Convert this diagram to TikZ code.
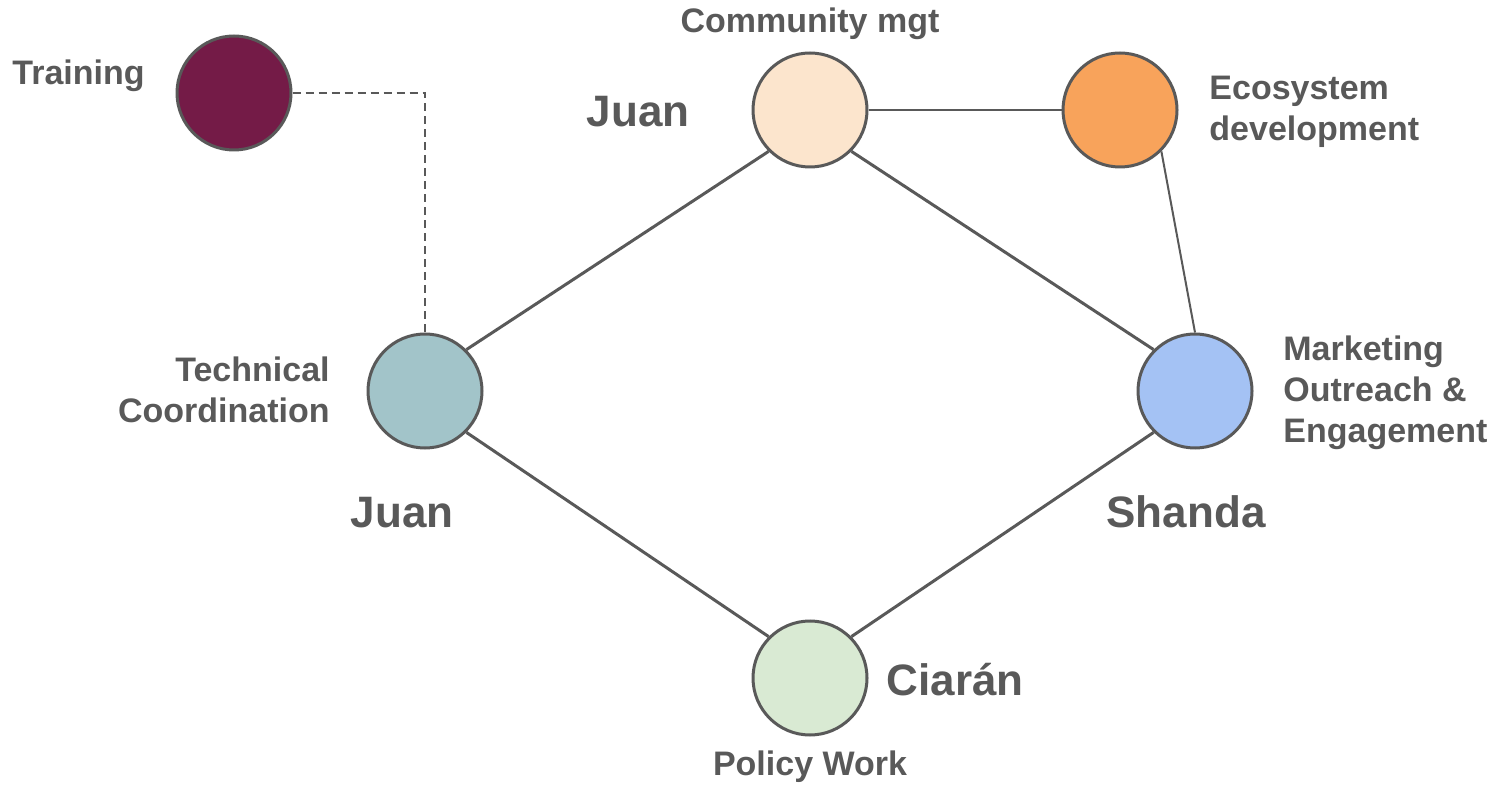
\documentclass[tikz,border=0pt]{standalone}
\usepackage{fontspec}
\setmainfont{Liberation Sans}
\definecolor{ink}{HTML}{595959}
\definecolor{plum}{HTML}{741B47}
\definecolor{peach}{HTML}{FCE5CD}
\definecolor{apricot}{HTML}{F8A35B}
\definecolor{teal}{HTML}{A2C4C9}
\definecolor{sky}{HTML}{A4C2F4}
\definecolor{mint}{HTML}{D9EAD3}
\begin{document}
\begin{tikzpicture}[x=0.5pt,y=-0.5pt,
  role/.style={circle,draw=ink,line width=1.5pt,minimum size=57pt,inner sep=0pt},
  link/.style={draw=ink,line width=1.5pt},
  thinlink/.style={draw=ink,line width=1pt},
  lbl/.style={text=ink,font=\fontsize{17}{20.5}\selectfont\bfseries,inner sep=0pt},
  who/.style={text=ink,font=\fontsize{22}{26}\selectfont\bfseries,inner sep=0pt}]
\useasboundingbox (0,0) rectangle (1498,785);
\node[role,fill=plum] (train) at (234,93) {};
\node[role,fill=peach] (comm) at (810,110) {};
\node[role,fill=apricot] (eco) at (1120,110) {};
\node[role,fill=teal] (tech) at (425,391) {};
\node[role,fill=sky] (mkt) at (1195,391) {};
\node[role,fill=mint] (pol) at (810,678) {};
\draw[link] (comm.south west) -- (tech.north east);
\draw[link] (comm.south east) -- (mkt.north west);
\draw[link] (tech.south east) -- (pol.north west);
\draw[link] (mkt.south west) -- (pol.north east);
\draw[thinlink] (comm) -- (eco);
\draw[thinlink] (eco.south east) -- (mkt.north);
\draw[ink,line width=0.8pt,dash pattern=on 4pt off 2.5pt] (train) -| (tech);
\node[lbl,anchor=base west] (trainlbl) at (12,85) {Training};
\node[lbl,anchor=base] (commlbl) at (810,33) {Community mgt};
\node[lbl,anchor=west,align=left] (ecolbl) at (1209,112) {Ecosystem\\development};
\node[lbl,anchor=east,align=right] (techlbl) at (330,390) {Technical\\Coordination};
\node[lbl,anchor=west,align=left] (mktlbl) at (1283,393) {Marketing\\Outreach \&\\Engagement};
\node[lbl,anchor=base] (pollbl) at (810,775) {Policy Work};
\node[who,anchor=base] (commwho) at (638,127) {Juan};
\node[who,anchor=base] (techwho) at (402,528) {Juan};
\node[who,anchor=base] (mktwho) at (1186,528) {Shanda};
\node[who,anchor=base] (polwho) at (955,695) {Ciarán};
\end{tikzpicture}
\end{document}
